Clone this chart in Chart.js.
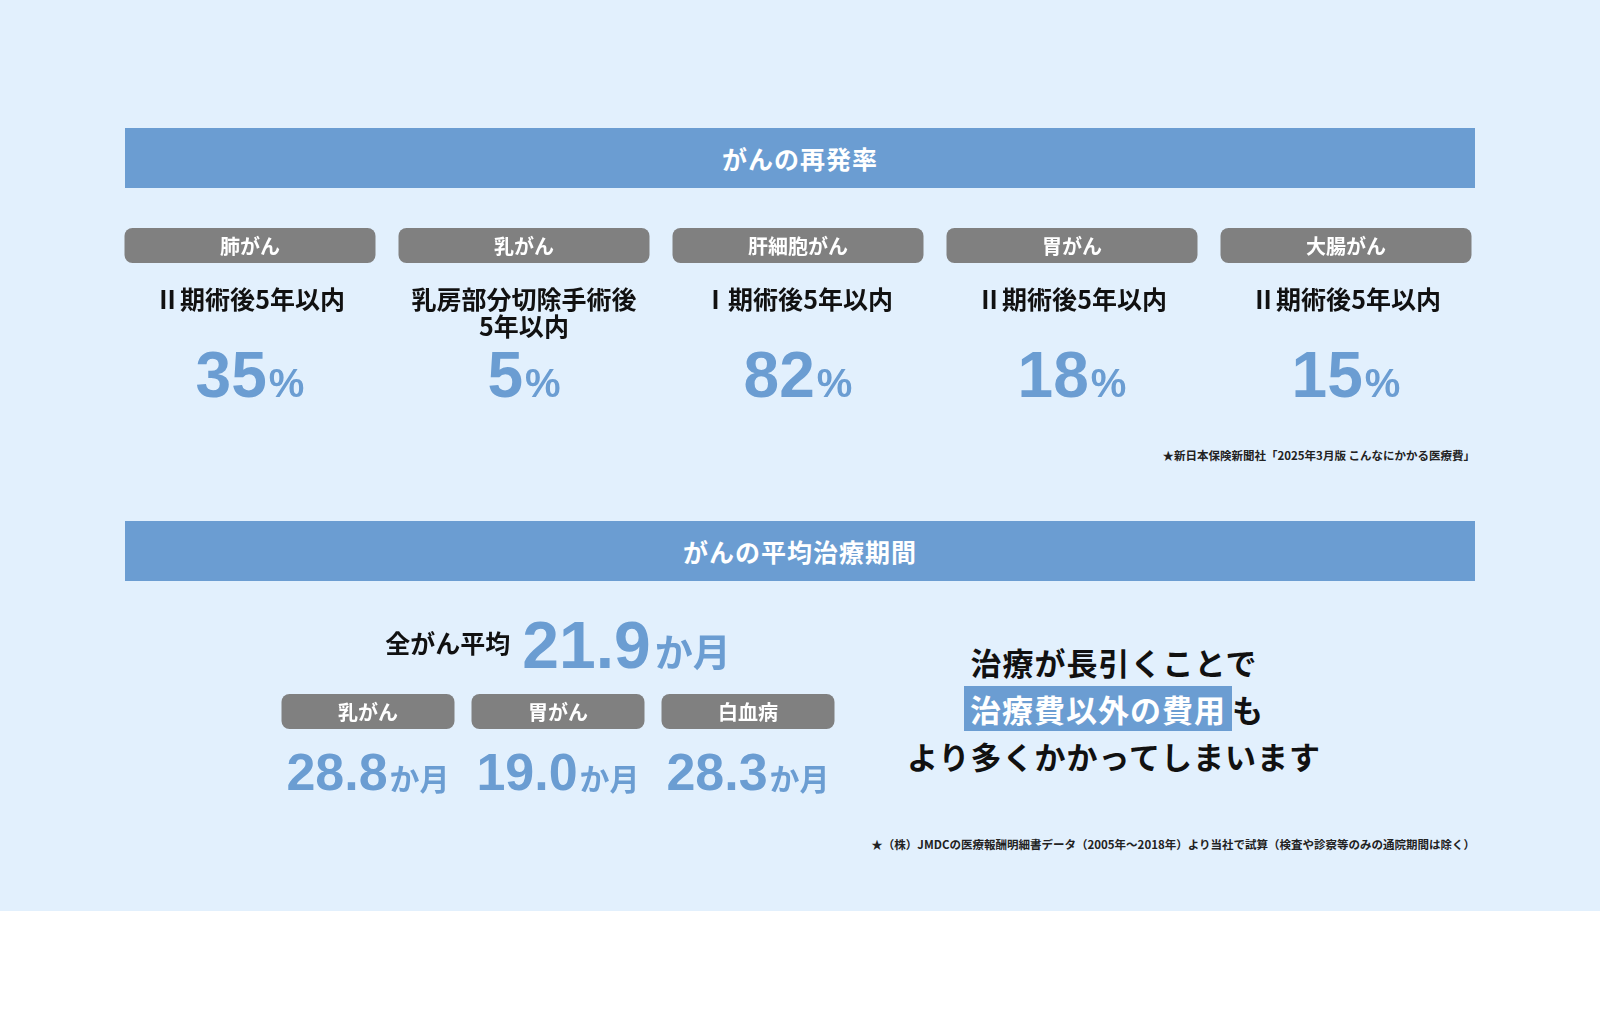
<!DOCTYPE html>
<html><head><meta charset="utf-8">
<script src="https://cdn.jsdelivr.net/npm/chart.js@4"></script>
<style>
  body { margin:0; width:1600px; height:1023px; background:#fff; font-family:"Noto Sans CJK JP",sans-serif; overflow:hidden; position:relative; }
  #bg { position:absolute; left:0; top:0; width:1600px; height:911px; background:#e2f0fd; }
  .bar { position:absolute; left:125px; width:1350px; height:60px; background:#6b9dd2; color:#fff; font-weight:700; font-size:25px; text-align:center; line-height:60px; letter-spacing:1px; }
  .note { position:absolute; right:125px; font-size:11.5px; font-weight:700; color:#222; }
  canvas { position:absolute; }
  #msg { position:absolute; left:864px; width:500px; top:638px; text-align:center; font-size:31px; font-weight:700; line-height:47px; color:#111; letter-spacing:1px; }
  #msg span { background:#6b9dd2; color:#fff; padding:0 6px; }
</style></head>
<body>
<div id="bg"></div>
<div class="bar" style="top:128px">がんの再発率</div>
<div class="note" style="top:447px">★新日本保険新聞社「2025年3月版 こんなにかかる医療費」</div>
<div class="bar" style="top:521px">がんの平均治療期間</div>
<div class="note" style="top:836px">★（株）JMDCの医療報酬明細書データ（2005年〜2018年）より当社で試算（検査や診察等のみの通院期間は除く）</div>
<div id="msg">治療が長引くことで<br><span>治療費以外の費用</span>も<br>より多くかかってしまいます</div>
<canvas id="c1" width="1370" height="195" style="left:113px;top:225px"></canvas>
<canvas id="c2" width="570" height="205" style="left:273px;top:598px"></canvas>
<script>
const recurTypes = ['肺がん', '乳がん', '肝細胞がん', '胃がん', '大腸がん'];
const recurStages = [['Ⅱ期術後5年以内'], ['乳房部分切除手術後', '5年以内'], ['Ⅰ期術後5年以内'], ['Ⅱ期術後5年以内'], ['Ⅱ期術後5年以内']];
const recurRates = [35, 5, 82, 18, 15];
const periodTypes = ['乳がん', '胃がん', '白血病'];
const periodMonths = [28.8, 19.0, 28.3];
const overallMonths = 21.9;

const BLUE = '#6b9dd2', GREY = '#808080';
const JP = '"Noto Sans CJK JP", sans-serif';
const NUM = '"Liberation Sans", Arial, sans-serif';

function pill(ctx, cx, top, w, h, text) {
  ctx.fillStyle = GREY;
  ctx.beginPath(); ctx.roundRect(cx - w / 2, top, w, h, 8); ctx.fill();
  ctx.fillStyle = '#fff'; ctx.font = '700 20px ' + JP;
  ctx.textAlign = 'center'; ctx.textBaseline = 'middle';
  ctx.fillText(text, cx, top + h / 2 + 1);
}
// draws number + unit centered at cx, baseline y
function valueText(ctx, cx, y, num, unit, numPx, unitPx, unitFont) {
  ctx.textBaseline = 'alphabetic'; ctx.textAlign = 'left'; ctx.fillStyle = BLUE;
  ctx.font = '700 ' + numPx + 'px ' + NUM; const wn = ctx.measureText(num).width;
  ctx.font = '700 ' + unitPx + 'px ' + unitFont; const wu = ctx.measureText(unit).width;
  let x = cx - (wn + wu + 2) / 2;
  ctx.font = '700 ' + numPx + 'px ' + NUM; ctx.fillText(num, x, y);
  ctx.font = '700 ' + unitPx + 'px ' + unitFont; ctx.fillText(unit, x + wn + 2, y);
}
const hidden = { x: { display: false, offset: true }, y: { display: false } };
const base = { responsive: false, animation: false, events: [], layout: { padding: 0 },
  plugins: { legend: { display: false }, tooltip: { enabled: false } }, scales: hidden };

new Chart(document.getElementById('c1'), {
  type: 'bar',
  data: { labels: recurTypes, datasets: [{ data: recurRates, backgroundColor: 'transparent' }] },
  options: base,
  plugins: [{ id: 'recur', afterDraw(chart) {
    const ctx = chart.ctx, xs = chart.scales.x;
    recurTypes.forEach((t, i) => {
      const cx = xs.getPixelForValue(i);
      pill(ctx, cx, 3, 251, 35, t);
      ctx.fillStyle = '#111'; ctx.font = '700 25px ' + JP;
      ctx.textAlign = 'center'; ctx.textBaseline = 'middle';
      recurStages[i].forEach((s, k) => ctx.fillText(s, cx, 74 + k * 27));
      valueText(ctx, cx, 172, String(recurRates[i]), '%', 64, 40, NUM);
    });
  }}]
});

new Chart(document.getElementById('c2'), {
  type: 'bar',
  data: { labels: periodTypes, datasets: [{ data: periodMonths, backgroundColor: 'transparent' }] },
  options: base,
  plugins: [{ id: 'period', afterDraw(chart) {
    const ctx = chart.ctx, xs = chart.scales.x;
    // overall average headline
    ctx.font = '700 25px ' + JP; const wl = ctx.measureText('全がん平均').width;
    ctx.font = '700 66px ' + NUM; const wn = ctx.measureText(overallMonths.toFixed(1)).width;
    ctx.font = '700 38px ' + JP; const wu = ctx.measureText('か月').width;
    let x = (xs.left + xs.right) / 2 - (wl + 12 + wn + 4 + wu) / 2;
    ctx.textAlign = 'left'; ctx.textBaseline = 'alphabetic';
    ctx.fillStyle = '#111'; ctx.font = '700 25px ' + JP; ctx.fillText('全がん平均', x, 55);
    ctx.fillStyle = BLUE; ctx.font = '700 66px ' + NUM; ctx.fillText(overallMonths.toFixed(1), x + wl + 12, 70);
    ctx.font = '700 38px ' + JP; ctx.fillText('か月', x + wl + 12 + wn + 4, 68);
    periodTypes.forEach((t, i) => {
      const cx = xs.getPixelForValue(i);
      pill(ctx, cx, 96, 173, 35, t);
      valueText(ctx, cx, 192, periodMonths[i].toFixed(1), 'か月', 52, 30, JP);
    });
  }}]
});
</script>
</body></html>
